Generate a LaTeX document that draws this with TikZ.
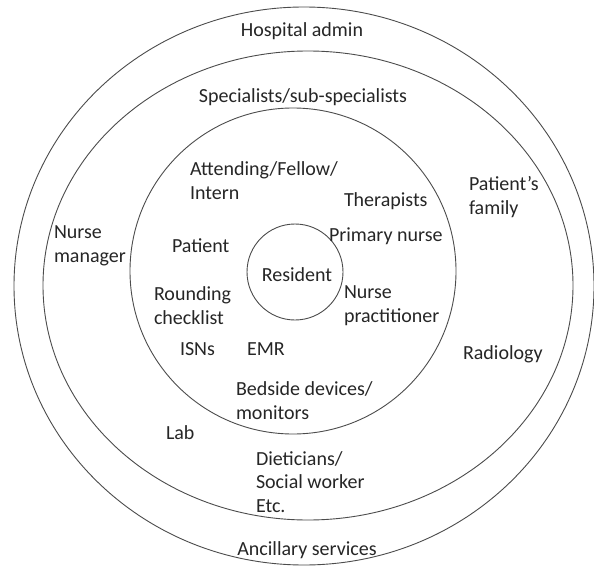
\documentclass[tikz,border=0pt]{standalone}
\usepackage{fontspec}
\setmainfont{Carlito}
\begin{document}
\begin{tikzpicture}[x=1pt,y=-1pt,
  ring/.style={draw=black!70,line width=0.9pt},
  lbl/.style={inner sep=0pt,outer sep=0pt,align=left,anchor=base west,text=black!85,
    font=\fontsize{20}{23.5}\selectfont},
  clbl/.style={lbl,anchor=base}]
\useasboundingbox (0,0) rectangle (594,567);
\fill[white] (0,0) rectangle (594,567);
\draw[ring] (304,286) ellipse [x radius=290, y radius=279];
\draw[ring] (308,285.5) ellipse [x radius=265, y radius=234.5];
\draw[ring] (293,271) circle [radius=163];
\draw[ring] (295,272) circle [radius=48];
\node[clbl] (admin) at (302,37) {Hospital admin};
\node[clbl] (spec) at (303,103) {Specialists/sub-specialists};
\node[lbl] (att) at (190,199) {Attending/Fellow/\\Intern};
\node[lbl] (ther) at (344,206) {Therapists};
\node[lbl] (fam) at (469,214) {Patient’s\\family};
\node[lbl] (nm) at (54,262) {Nurse\\manager};
\node[lbl] (pat) at (172,252) {Patient};
\node[lbl] (pn) at (329,241) {Primary nurse};
\node[clbl] (res) at (297,281) {Resident};
\node[lbl] (rc) at (154,324) {Rounding\\checklist};
\node[lbl] (np) at (344,322) {Nurse\\practitioner};
\node[lbl] (isn) at (180,355) {ISNs};
\node[lbl] (emr) at (247,355) {EMR};
\node[lbl] (rad) at (463,359) {Radiology};
\node[lbl] (bed) at (236,419) {Bedside devices/\\monitors};
\node[lbl] (lab) at (166,439) {Lab};
\node[lbl] (diet) at (256,512) {Dieticians/\\Social worker\\Etc.};
\node[clbl] (anc) at (307,555) {Ancillary services};
\end{tikzpicture}
\end{document}
